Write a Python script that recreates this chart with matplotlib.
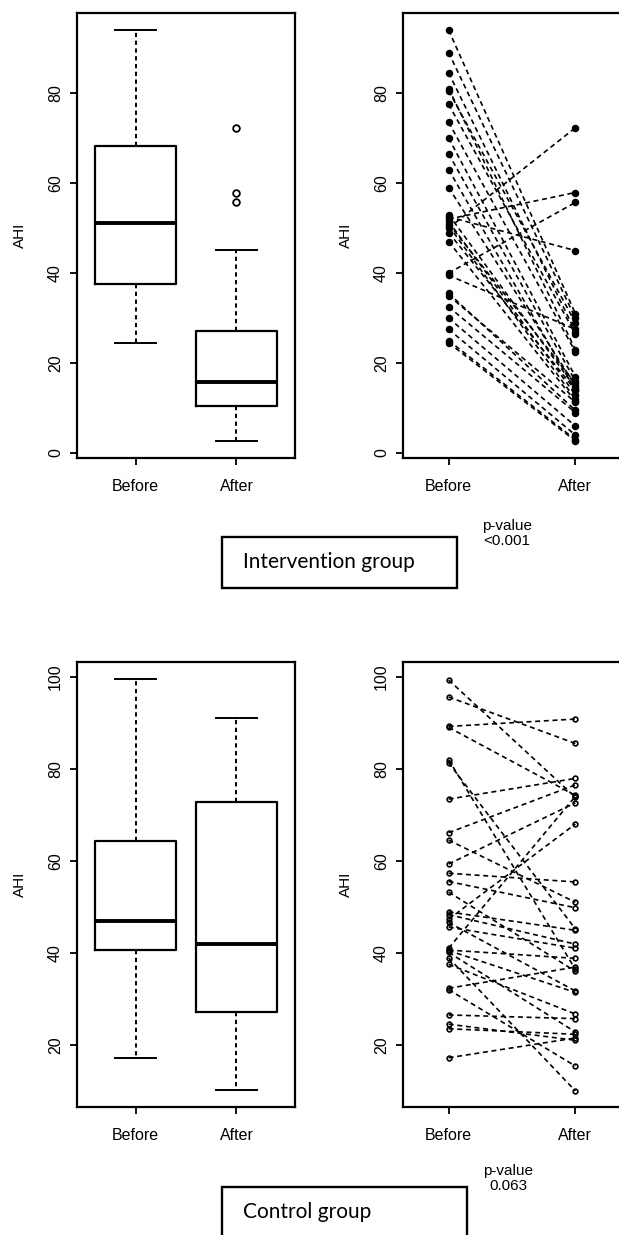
"""
AHI before/after treatment: boxplots and paired-line plots for the
intervention group (top) and the control group (bottom).
"""

import matplotlib
matplotlib.use("Agg")
import matplotlib.pyplot as plt
from matplotlib.patches import Rectangle

plt.rcParams["font.family"] = ["Liberation Sans", "DejaVu Sans"]

W, H = 619, 1235
TICK_LABELS = ["Before", "After"]

# ---- intervention group: box summaries (Before, After) ----
INT_WLO = [24.5, 2.7]
INT_Q1 = [37.6, 10.4]
INT_MED = [51.1, 15.9]
INT_Q3 = [68.3, 27.2]
INT_WHI = [94.0, 45.2]
INT_FLIERS = [[], [55.7, 57.8, 72.2]]

# ---- intervention group: paired values ----
INT_BEFORE = [94.0, 89.0, 84.5, 81.0, 80.5, 77.5, 73.5, 70.0, 66.5, 63.0,
              59.0, 53.0, 52.5, 52.0, 51.5, 51.0, 50.5, 50.0, 49.0, 47.0,
              40.0, 39.5, 35.5, 35.0, 32.5, 30.0, 27.5, 25.0, 24.5]
INT_AFTER = [31.0, 30.0, 27.0, 23.0, 29.0, 26.5, 22.5, 17.0, 16.0, 14.0,
             15.0, 14.5, 45.0, 57.9, 13.0, 15.5, 12.0, 72.3, 14.0, 11.5,
             55.7, 27.5, 9.5, 11.3, 9.0, 6.0, 4.0, 3.0, 2.7]

# ---- control group: box summaries (Before, After) ----
CTL_WLO = [17.1, 10.1]
CTL_Q1 = [40.6, 27.1]
CTL_MED = [47.0, 42.0]
CTL_Q3 = [64.4, 72.8]
CTL_WHI = [99.5, 91.0]
CTL_FLIERS = [[], []]

# ---- control group: paired values ----
CTL_BEFORE = [99.3, 95.6, 89.2, 89.0, 82.0, 81.3, 73.4, 66.1, 64.5, 59.3,
              57.3, 55.5, 53.2, 48.9, 48.3, 47.3, 46.6, 45.6, 41.0, 40.6,
              40.5, 40.1, 38.9, 37.5, 32.3, 32.0, 26.5, 24.5, 23.5, 17.2]
CTL_AFTER = [73.8, 85.5, 90.8, 74.2, 36.4, 45.2, 77.9, 76.5, 51.0, 72.6,
             55.4, 49.8, 36.0, 44.9, 41.9, 68.0, 31.7, 41.0, 74.0, 38.8,
             31.4, 22.8, 10.0, 26.7, 36.9, 15.4, 25.7, 21.0, 22.3, 21.5]


def px_axes(fig, x0, y0, x1, y1):
    """Add axes given pixel box (top-left origin)."""
    return fig.add_axes([x0 / W, 1 - y1 / H, (x1 - x0) / W, (y1 - y0) / H])


def style(ax, ylim, yticks):
    ax.set_ylim(*ylim)
    ax.set_yticks(yticks)
    ax.set_xticks([1, 2])
    ax.set_xticklabels(TICK_LABELS)
    for s in ax.spines.values():
        s.set_linewidth(1.6)
    ax.tick_params(axis="x", direction="out", length=5, width=1.3,
                   pad=10, labelsize=11.5)
    ax.tick_params(axis="y", direction="out", length=5, width=1.3,
                   pad=5, labelsize=11.5, labelrotation=90)
    for lab in ax.get_yticklabels():
        lab.set_va("center")
    ax.set_ylabel("AHI", fontsize=11)
    ax.yaxis.set_label_coords(-0.228, 0.5)


def draw_box(ax, wlo, q1, med, q3, whi, fliers):
    stats = [dict(whislo=wlo[i], q1=q1[i], med=med[i], q3=q3[i],
                  whishi=whi[i], fliers=fliers[i]) for i in range(2)]
    ax.bxp(stats, positions=[1, 2], widths=0.8, capwidths=0.4,
           boxprops=dict(color="black", linewidth=1.6),
           medianprops=dict(color="black", linewidth=2.8),
           whiskerprops=dict(color="black", linewidth=1.4,
                             linestyle=(0, (2.2, 1.8))),
           capprops=dict(color="black", linewidth=1.4),
           flierprops=dict(marker="o", markersize=4.8, markerfacecolor="none",
                           markeredgecolor="black", markeredgewidth=1.3))
    ax.set_xlim(0.42, 2.58)


def draw_pairs(ax, before, after, filled):
    for b, a in zip(before, after):
        ax.plot([1, 2], [b, a], color="black", linewidth=1.2,
                linestyle=(0, (3, 2.2)))
    fc = "black" if filled else "none"
    ms = 4.2 if filled else 3.4
    ax.plot([1] * len(before), before, "o", ms=ms, mfc=fc, mec="black", mew=1.2)
    ax.plot([2] * len(after), after, "o", ms=ms, mfc=fc, mec="black", mew=1.2)
    ax.set_xlim(0.64, 2.36)


def label_box(fig, x0, y0, x1, y1, text, pval, px, py):
    fig.patches.append(Rectangle((x0 / W, 1 - y1 / H), (x1 - x0) / W,
                                 (y1 - y0) / H, transform=fig.transFigure,
                                 fill=False, edgecolor="black", linewidth=1.7))
    fig.text(243 / W, 1 - (y0 + 25) / H, text, fontsize=15,
             family=["Lato", "DejaVu Sans"], ha="left", va="center")
    fig.text(px / W, 1 - py / H, "p-value\n" + pval, fontsize=11,
             ha="center", va="top", linespacing=1.05)


def main():
    fig = plt.figure(figsize=(W / 100, H / 100), dpi=100)

    ax1 = px_axes(fig, 77, 13, 295, 458)
    draw_box(ax1, INT_WLO, INT_Q1, INT_MED, INT_Q3, INT_WHI, INT_FLIERS)
    style(ax1, (-1.1, 97.8), [0, 20, 40, 60, 80])

    ax2 = px_axes(fig, 403, 13, 621, 458)
    draw_pairs(ax2, INT_BEFORE, INT_AFTER, filled=True)
    style(ax2, (-1.1, 97.8), [0, 20, 40, 60, 80])

    ax3 = px_axes(fig, 77, 662, 295, 1107)
    draw_box(ax3, CTL_WLO, CTL_Q1, CTL_MED, CTL_Q3, CTL_WHI, CTL_FLIERS)
    style(ax3, (6.5, 103.2), [20, 40, 60, 80, 100])

    ax4 = px_axes(fig, 403, 662, 621, 1107)
    draw_pairs(ax4, CTL_BEFORE, CTL_AFTER, filled=False)
    style(ax4, (6.5, 103.2), [20, 40, 60, 80, 100])

    label_box(fig, 222, 537, 457, 588, "Intervention group", "<0.001", 507, 519)
    label_box(fig, 222, 1187, 467, 1260, "Control group", "0.063", 508, 1164)

    fig.savefig("out.png", dpi=100)
    plt.close(fig)


if __name__ == "__main__":
    main()
